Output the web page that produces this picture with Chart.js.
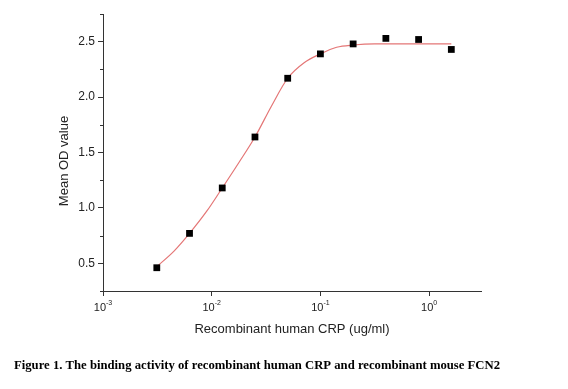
<!DOCTYPE html>
<html>
<head>
<meta charset="utf-8">
<script src="https://cdn.jsdelivr.net/npm/chart.js@4.4.1/dist/chart.umd.min.js"></script>
<style>
  html, body { margin: 0; padding: 0; background: #ffffff; }
  #wrap { width: 568px; height: 389px; position: relative; }
</style>
</head>
<body>
<div id="wrap"><canvas id="c" width="568" height="389"></canvas></div>
<script>
const concentrations = [0.003125, 0.00625, 0.0125, 0.025, 0.05, 0.1, 0.2, 0.4, 0.8, 1.6];
const meanOD = [0.46, 0.77, 1.18, 1.64, 2.17, 2.39, 2.48, 2.53, 2.52, 2.43];

// Fitted curve
const fitX = [0.003125, 0.0045, 0.00625, 0.009, 0.0125, 0.0178, 0.025, 0.0355, 0.05, 0.0708, 0.1, 0.141, 0.2, 0.316, 0.4, 0.8, 1.6];
const fitY = [0.47, 0.61, 0.77, 0.97, 1.18, 1.41, 1.64, 1.92, 2.17, 2.31, 2.39, 2.45, 2.47, 2.48, 2.48, 2.48, 2.48];

// Axis ticks
const xTickValues = [0.001, 0.01, 0.1, 1];
const xTickExponents = ['-3', '-2', '-1', '0'];
const yMajorTicks = [0.5, 1.0, 1.5, 2.0, 2.5];
const yMinorTicks = [0.25, 0.75, 1.25, 1.75, 2.25, 2.75];

const xTitle = 'Recombinant human CRP (ug/ml)';
const yTitle = 'Mean OD value';
const caption = 'Figure 1. The binding activity of recombinant human CRP and recombinant mouse FCN2';

const AXIS = '#333333';
const TEXT = '#222222';

const scatterPts = concentrations.map((x, i) => ({ x: x, y: meanOD[i] }));
const fitPts = fitX.map((x, i) => ({ x: x, y: fitY[i] }));

const decor = {
  id: 'decor',
  afterDraw(chart) {
    const ctx = chart.ctx;
    const xs = chart.scales.x, ys = chart.scales.y;
    const ca = chart.chartArea;
    ctx.save();
    // minor y ticks
    ctx.strokeStyle = AXIS;
    ctx.lineWidth = 1;
    yMinorTicks.forEach(v => {
      const py = Math.round(ys.getPixelForValue(v)) + 0.5;
      ctx.beginPath();
      ctx.moveTo(ca.left - 3, py);
      ctx.lineTo(ca.left, py);
      ctx.stroke();
    });
    // x tick labels: 10 with superscript exponent
    ctx.fillStyle = TEXT;
    ctx.textBaseline = 'alphabetic';
    xTickValues.forEach((v, i) => {
      const px = xs.getPixelForValue(v);
      ctx.font = '11px "Liberation Sans", Arial, sans-serif';
      const wBase = ctx.measureText('10').width;
      ctx.font = '7px "Liberation Sans", Arial, sans-serif';
      const wExp = ctx.measureText(xTickExponents[i]).width;
      const total = wBase + wExp;
      const x0 = px - total / 2;
      ctx.font = '11px "Liberation Sans", Arial, sans-serif';
      ctx.textAlign = 'left';
      ctx.fillText('10', x0, 311);
      ctx.font = '7px "Liberation Sans", Arial, sans-serif';
      ctx.fillText(xTickExponents[i], x0 + wBase, 305);
    });
    // axis titles
    ctx.font = '13px "Liberation Sans", Arial, sans-serif';
    ctx.textAlign = 'center';
    ctx.textBaseline = 'middle';
    ctx.fillText(xTitle, 292, 329);
    ctx.save();
    ctx.translate(64, 161);
    ctx.rotate(-Math.PI / 2);
    ctx.fillText(yTitle, 0, 0);
    ctx.restore();
    // caption
    ctx.fillStyle = '#000000';
    ctx.font = 'bold 12.7px "Liberation Serif", "Times New Roman", serif';
    ctx.textAlign = 'left';
    ctx.textBaseline = 'middle';
    ctx.fillText(caption, 14, 366);
    ctx.restore();
  }
};

new Chart(document.getElementById('c'), {
  type: 'scatter',
  data: {
    datasets: [
      {
        label: 'Fit',
        data: fitPts,
        showLine: true,
        borderColor: 'rgb(228,118,118)',
        borderWidth: 1.2,
        pointRadius: 0,
        cubicInterpolationMode: 'monotone',
        fill: false,
        order: 2
      },
      {
        label: 'Mean OD',
        data: scatterPts,
        showLine: false,
        pointStyle: 'rect',
        pointRadius: 4.8,
        backgroundColor: '#000000',
        borderColor: '#000000',
        borderWidth: 0,
        order: 1
      }
    ]
  },
  options: {
    responsive: false,
    animation: false,
    devicePixelRatio: 1,
    layout: { padding: { left: 0, top: 14, right: 87, bottom: 0 } },
    plugins: { legend: { display: false }, tooltip: { enabled: false }, title: { display: false } },
    scales: {
      x: {
        type: 'logarithmic',
        min: 0.001,
        max: 3.0,
        afterBuildTicks: s => { s.ticks = xTickValues.map(v => ({ value: v })); },
        afterFit: s => { s.height = 98; },
        ticks: { callback: () => '', autoSkip: false },
        grid: { drawOnChartArea: false, drawTicks: true, tickLength: 5, color: AXIS, lineWidth: 1 },
        border: { display: true, color: AXIS, width: 1 }
      },
      y: {
        type: 'linear',
        min: 0.25,
        max: 2.75,
        afterBuildTicks: s => { s.ticks = yMajorTicks.map(v => ({ value: v })); },
        afterFit: s => { s.width = 103; },
        ticks: {
          autoSkip: false,
          padding: 3,
          color: TEXT,
          font: { family: '"Liberation Sans", Arial, sans-serif', size: 12 },
          callback: v => Number(v).toFixed(1)
        },
        grid: { drawOnChartArea: false, drawTicks: true, tickLength: 5, color: AXIS, lineWidth: 1 },
        border: { display: true, color: AXIS, width: 1 }
      }
    }
  },
  plugins: [decor]
});
</script>
</body>
</html>
